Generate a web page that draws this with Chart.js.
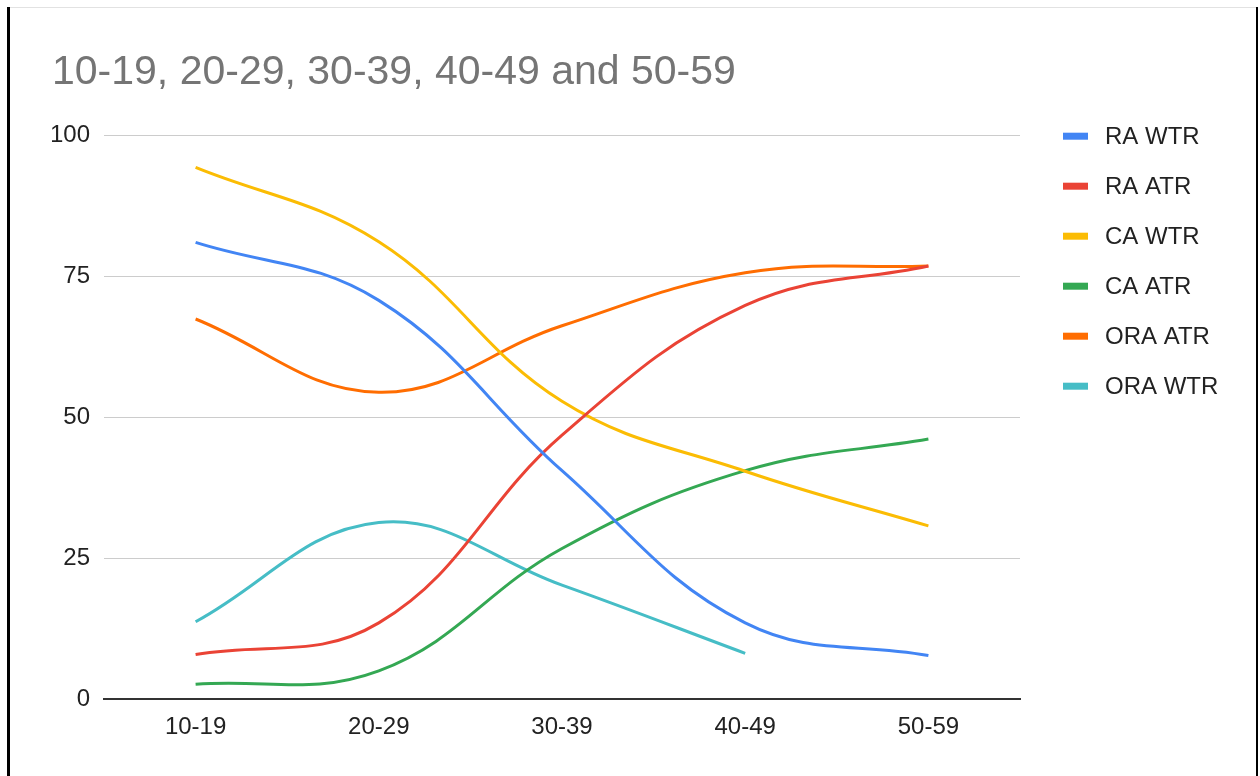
<!DOCTYPE html>
<html>
<head>
<meta charset="utf-8">
<title>Age groups chart</title>
<script src="https://cdn.jsdelivr.net/npm/chart.js@4.4.1/dist/chart.umd.min.js"></script>
<style>
  html, body { margin: 0; padding: 0; background: #ffffff; overflow: hidden; }
  #wrap { position: absolute; left: 0; top: 0; width: 1260px; height: 776px; }
  #chart { position: absolute; left: 0; top: 0; }
  .edge { position: absolute; }
  #edgeTop { left: 7px; top: 7px; width: 1251px; height: 1px; background: #e2e2e2; }
  #edgeLeft { left: 7px; top: 7px; width: 3px; height: 769px; background: #000000; }
  #edgeRight { left: 1256px; top: 7px; width: 2px; height: 769px; background: #000000; }
</style>
</head>
<body>
<div id="wrap">
  <canvas id="chart" width="1260" height="776"></canvas>
  <div class="edge" id="edgeTop"></div>
  <div class="edge" id="edgeLeft"></div>
  <div class="edge" id="edgeRight"></div>
</div>
<script>
// Age groups on the x axis
const categories = ['10-19', '20-29', '30-39', '40-49', '50-59'];

// Series values (percent)
const raWtr  = [81.0, 70.7, 40.5, 13.5, 7.7];
const raAtr  = [7.9, 13.5, 46.8, 69.8, 76.8];
const caWtr  = [94.3, 81.1, 52.8, 40.4, 30.7];
const caAtr  = [2.6, 5.0, 26.7, 40.5, 46.1];
const oraAtr = [67.4, 54.4, 66.2, 75.6, 76.8];
const oraWtr = [13.7, 31.3, 20.2, 8.1, null];

// Y axis ticks
const yTicks = [0, 25, 50, 75, 100];

const seriesNames = ['RA WTR', 'RA ATR', 'CA WTR', 'CA ATR', 'ORA ATR', 'ORA WTR'];
const seriesValues = [raWtr, raAtr, caWtr, caAtr, oraAtr, oraWtr];
const seriesColors = ['#4285F4', '#EA4335', '#FBBC04', '#34A853', '#FF6D01', '#46BDC6'];

const FONT = '"Liberation Sans", Arial, "DejaVu Sans", sans-serif';

// Legend drawn at the right of the plot area
const sideLegend = {
  id: 'sideLegend',
  afterDraw(chart) {
    const { ctx, chartArea } = chart;
    const boxX = chartArea.right + 43;
    const textX = boxX + 42;
    ctx.save();
    ctx.font = '24px ' + FONT;
    ctx.textAlign = 'left';
    ctx.textBaseline = 'middle';
    chart.data.datasets.forEach((ds, i) => {
      const y = chartArea.top + 1 + i * 50;
      ctx.fillStyle = ds.borderColor;
      ctx.fillRect(boxX, y - 3.5, 25, 7);
      ctx.fillStyle = '#222222';
      ctx.fillText(ds.label, textX, y + 1);
    });
    ctx.restore();
  }
};

new Chart(document.getElementById('chart'), {
  type: 'line',
  data: {
    labels: categories,
    datasets: seriesNames.map((name, i) => ({
      label: name,
      data: seriesValues[i],
      borderColor: seriesColors[i],
      backgroundColor: seriesColors[i],
      borderWidth: 3,
      pointRadius: 0,
      pointHoverRadius: 0,
      tension: 0.4,
      fill: false,
      spanGaps: false
    }))
  },
  options: {
    responsive: false,
    animation: false,
    events: [],
    layout: { padding: { left: 52, right: 240, top: 0, bottom: 0 } },
    plugins: {
      legend: { display: false },
      tooltip: { enabled: false },
      title: {
        display: true,
        text: '10-19, 20-29, 30-39, 40-49 and 50-59',
        align: 'start',
        color: '#757575',
        font: { family: FONT, size: 41, weight: 'normal', lineHeight: 1.2 },
        padding: { top: 48, bottom: 38 }
      }
    },
    scales: {
      x: {
        offset: true,
        grid: { display: false, drawTicks: false },
        border: { display: true, color: '#333333', width: 2 },
        ticks: { color: '#222222', font: { family: FONT, size: 24 }, padding: 14, maxRotation: 0 },
        afterFit(scale) { scale.height = 77; }
      },
      y: {
        min: 0,
        max: 100,
        afterBuildTicks(scale) { scale.ticks = yTicks.map(v => ({ value: v })); },
        grid: {
          drawTicks: false,
          color: (c) => (c.tick && c.tick.value === 0) ? 'rgba(0,0,0,0)' : '#cccccc',
          lineWidth: 1
        },
        border: { display: false },
        ticks: { color: '#222222', font: { family: FONT, size: 24 }, padding: 14 },
        afterFit(scale) { scale.width = 52; }
      }
    }
  },
  plugins: [sideLegend]
});
</script>
</body>
</html>
